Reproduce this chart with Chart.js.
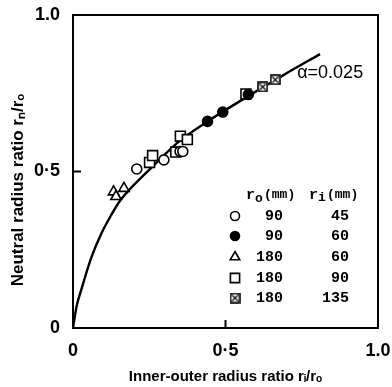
<!DOCTYPE html>
<html>
<head>
<meta charset="utf-8">
<script src="https://cdn.jsdelivr.net/npm/chart.js@4"></script>
<style>
  html, body { margin: 0; padding: 0; background: #fff; }
  #wrap { width: 392px; height: 387px; position: relative; }
</style>
</head>
<body>
<div id="wrap"><canvas id="chart"></canvas></div>
<script>
// axis ticks
var xTickValues = [0, 0.5, 1];
var xTickLabels = ['0', '0·5', '1.0'];
var yTickValues = [0, 0.5, 1];
var yTickLabels = ['0', '0·5', '1.0'];
var innerTicks = [0.5];
var yTitle = 'Neutral radius ratio rₙ/rₒ';

// alpha = 0.025 curve
var curveX = [0, 0.012, 0.027, 0.06, 0.093, 0.126, 0.153, 0.187, 0.26, 0.345, 0.441, 0.526, 0.69, 0.81];
var curveY = [0, 0.07, 0.122, 0.225, 0.302, 0.362, 0.405, 0.444, 0.515, 0.594, 0.66, 0.712, 0.808, 0.875];
var curveLabel = 'α=0.025';

// experiments: r_o (mm) / r_i (mm)
var roValues = [90, 90, 180, 180, 180];
var riValues = [45, 60, 60, 90, 135];

var openCircX = [0.209, 0.298, 0.351, 0.360];
var openCircY = [0.508, 0.537, 0.564, 0.564];
var fillCircX = [0.441, 0.491, 0.575];
var fillCircY = [0.660, 0.690, 0.746];
var triX = [0.133, 0.167, 0.141];
var triY = [0.435, 0.446, 0.420];
var sqX = [0.251, 0.261, 0.337, 0.352, 0.375, 0.567];
var sqY = [0.529, 0.551, 0.562, 0.613, 0.602, 0.748];
var xsqX = [0.622, 0.663];
var xsqY = [0.770, 0.793];

function pts(xs, ys) {
    return xs.map(function (x, i) { return {x: x, y: ys[i]}; });
}

// square with a cross inside
function crossSquare() {
    var c = document.createElement('canvas');
    c.width = 11; c.height = 11;
    var g = c.getContext('2d');
    g.fillStyle = '#fff';
    g.fillRect(0, 0, 11, 11);
    g.strokeStyle = '#000';
    g.lineWidth = 1.6;
    g.strokeRect(1, 1, 9, 9);
    g.lineWidth = 1.2;
    g.beginPath();
    g.moveTo(2.5, 2.5); g.lineTo(8.5, 8.5);
    g.moveTo(8.5, 2.5); g.lineTo(2.5, 8.5);
    g.stroke();
    return c;
}
var xsqImg = crossSquare();

var markerStyles = [
    {pointStyle: 'circle', radius: 5, bg: '#fff'},
    {pointStyle: 'circle', radius: 5, bg: '#000'},
    {pointStyle: 'triangle', radius: 6, bg: '#fff'},
    {pointStyle: 'rect', radius: 7, bg: '#fff'},
    {pointStyle: xsqImg, radius: 6, bg: '#fff'}
];
var markerData = [
    pts(openCircX, openCircY),
    pts(fillCircX, fillCircY),
    pts(triX, triY),
    pts(sqX, sqY),
    pts(xsqX, xsqY)
];

var datasets = markerData.map(function (d, i) {
    var s = markerStyles[i];
    return {
        label: roValues[i] + ' / ' + riValues[i],
        data: d,
        pointStyle: s.pointStyle,
        pointRadius: s.radius,
        pointBackgroundColor: s.bg,
        pointBorderColor: '#000',
        pointBorderWidth: 1.6,
        showLine: false,
        order: 0
    };
});
datasets.push({
    label: curveLabel,
    data: pts(curveX, curveY),
    showLine: true,
    borderColor: '#000',
    borderWidth: 2.4,
    pointRadius: 0,
    cubicInterpolationMode: 'monotone',
    order: 5
});

var fontMain = '"Liberation Sans", Arial, sans-serif';
var fontMono = '"Liberation Mono", "DejaVu Sans Mono", monospace';

// frame, inward ticks, y title, curve label and the legend table
var decor = {
    id: 'decor',
    afterDraw: function (chart) {
        var ctx = chart.ctx;
        var a = chart.chartArea;
        var xs = chart.scales.x, ys = chart.scales.y;
        ctx.save();
        ctx.strokeStyle = '#000';
        ctx.lineWidth = 2;
        ctx.strokeRect(a.left, a.top, a.right - a.left, a.bottom - a.top);
        innerTicks.forEach(function (v) {
            var px = xs.getPixelForValue(v);
            ctx.beginPath(); ctx.moveTo(px, a.bottom); ctx.lineTo(px, a.bottom - 8); ctx.stroke();
            var py = ys.getPixelForValue(v);
            ctx.beginPath(); ctx.moveTo(a.left, py); ctx.lineTo(a.left + 8, py); ctx.stroke();
        });

        ctx.fillStyle = '#000';
        ctx.textBaseline = 'middle';

        // y title sits a bit below the middle of the axis
        ctx.save();
        ctx.translate(18, 190);
        ctx.rotate(-Math.PI / 2);
        ctx.textAlign = 'center';
        ctx.font = 'bold 17px ' + fontMain;
        ctx.fillText(yTitle, 0, 0);
        ctx.restore();

        ctx.font = '18px ' + fontMain;
        ctx.textAlign = 'left';
        ctx.fillText(curveLabel, xs.getPixelForValue(0.735), ys.getPixelForValue(0.813));

        // legend table
        var hy = 195;
        ctx.textAlign = 'left';
        ctx.font = 'bold 15px ' + fontMono;
        ctx.fillText('r', 246, hy);
        ctx.font = 'bold 13px ' + fontMono;
        ctx.fillText('o', 255, hy + 4);
        ctx.font = 'bold 13px ' + fontMono;
        ctx.fillText('(mm)', 264, hy);
        ctx.font = 'bold 15px ' + fontMono;
        ctx.fillText('r', 309, hy);
        ctx.font = 'bold 13px ' + fontMono;
        ctx.fillText('i', 318, hy + 3);
        ctx.fillText('(mm)', 327, hy);

        var rowY = [216, 236, 257, 278, 298];
        ctx.font = 'bold 15px ' + fontMono;
        roValues.forEach(function (ro, i) {
            var s = markerStyles[i];
            ctx.fillStyle = s.bg;
            ctx.strokeStyle = '#000';
            ctx.lineWidth = 1.6;
            Chart.helpers.drawPoint(ctx, {pointStyle: s.pointStyle, radius: s.radius - 0.5, rotation: 0, borderWidth: 1.6}, 235, rowY[i]);
            ctx.fillStyle = '#000';
            ctx.textAlign = 'right';
            ctx.fillText(String(ro), 283, rowY[i]);
            ctx.fillText(String(riValues[i]), 349, rowY[i]);
        });
        ctx.restore();
    }
};

new Chart(document.getElementById('chart'), {
    type: 'scatter',
    data: {datasets: datasets},
    options: {
        responsive: true,
        maintainAspectRatio: false,
        animation: false,
        layout: {padding: {left: 0, right: 14, top: 15, bottom: 0}},
        plugins: {legend: {display: false}, tooltip: {enabled: false}},
        scales: {
            x: {
                type: 'linear', min: 0, max: 1,
                afterBuildTicks: function (s) { s.ticks = xTickValues.map(function (v) { return {value: v}; }); },
                afterFit: function (s) { s.height = 59; s.paddingLeft = 0; s.paddingRight = 0; },
                grid: {display: false, drawTicks: false},
                border: {display: false},
                ticks: {
                    padding: 12, color: '#000', maxRotation: 0,
                    font: {family: fontMain, size: 18, weight: 'bold'},
                    callback: function (v) { return xTickLabels[xTickValues.indexOf(v)]; }
                },
                title: {
                    display: true, text: 'Inner-outer radius ratio rᵢ/rₒ', color: '#000',
                    font: {family: fontMain, size: 15, weight: 'bold'},
                    padding: {top: 0, bottom: 1}
                }
            },
            y: {
                type: 'linear', min: 0, max: 1,
                afterBuildTicks: function (s) { s.ticks = yTickValues.map(function (v) { return {value: v}; }); },
                afterFit: function (s) { s.width = 73; s.paddingTop = 0; s.paddingBottom = 0; },
                grid: {display: false, drawTicks: false},
                border: {display: false},
                ticks: {
                    padding: 13, color: '#000',
                    font: {family: fontMain, size: 18, weight: 'bold'},
                    callback: function (v) { return yTickLabels[yTickValues.indexOf(v)]; }
                }
            }
        }
    },
    plugins: [decor]
});
</script>
</body>
</html>
